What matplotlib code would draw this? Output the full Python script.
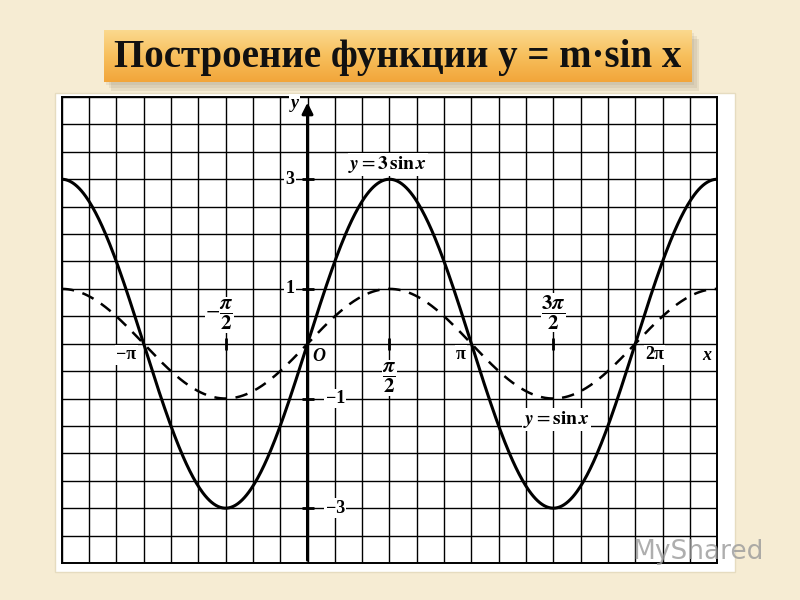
import numpy as np
import matplotlib
matplotlib.use("Agg")
import matplotlib.pyplot as plt
from matplotlib.patches import Rectangle

plt.rcParams['mathtext.fontset'] = 'stix'

title = "Построение функции y = m·sin x"

# amplitudes of the two curves
amps = [3, 1]
styles = ["-", "--"]
curve_labels = [r"$\boldsymbol{y} = \mathbf{3\,sin}\,\boldsymbol{x}$",
                r"$\boldsymbol{y} = \mathbf{sin}\,\boldsymbol{x}$"]
curve_label_pos = [(1.54, 3.27), (4.77, -1.38)]

# axis range: x in units of pi, y in units
x_min, x_max = -1.5 * np.pi, 2.5 * np.pi
y_min, y_max = -4, 4.5

# tick labels on the axes
y_tick_vals = [3, 1, -1, -3]
y_tick_text = ["3", "1", "\u22121", "\u22123"]
x_tick_vals = [-np.pi, np.pi, 2 * np.pi]
x_tick_text = ["\u2212\u03c0", "\u03c0", "2\u03c0"]
frac_vals = [-np.pi / 2, np.pi / 2, 3 * np.pi / 2]
frac_text = [r"$-\dfrac{\boldsymbol{\pi}}{\mathbf{2}}$", r"$\dfrac{\boldsymbol{\pi}}{\mathbf{2}}$",
             r"$\dfrac{\mathbf{3}\boldsymbol{\pi}}{\mathbf{2}}$"]

fig = plt.figure(figsize=(8, 6), dpi=100)
fig.patch.set_facecolor("#f6ecd3")

# white sheet behind the grid
fig.patches.append(Rectangle((55 / 800, 1 - 572 / 600), 680 / 800, 479 / 600,
                             transform=fig.transFigure, fc="white", ec="#e6dcc0", lw=1, zorder=0))

# title box with shadow and gradient
bx, by, bw, bh = 104 / 800, 1 - 82 / 600, 588 / 800, 52 / 600
for i, a in enumerate([0.10, 0.10, 0.12]):
    fig.patches.append(Rectangle((bx + (i + 1) * 0.003, by - (i + 1) * 0.005), bw, bh,
                                 transform=fig.transFigure, fc="#7a6a50", ec="none",
                                 alpha=a, zorder=0))
tax = fig.add_axes([bx, by, bw, bh])
tax.set_zorder(3)
grad = np.linspace(0, 1, 100).reshape(-1, 1)
cmap = matplotlib.colors.LinearSegmentedColormap.from_list("g", ["#fbd98e", "#f7bf5c", "#f2a53a"])
tax.imshow(grad, aspect="auto", cmap=cmap, extent=[0, 1, 0, 1], origin="upper")
tax.set_xlim(0, 1)
tax.set_ylim(0, 1)
tax.axis("off")
tax.text(0.5, 0.47, title, ha="center", va="center", fontsize=28,
         family="Liberation Serif", weight="bold", color="#111111")

# main graph
ax = fig.add_axes([61.7 / 800, 1 - 563 / 600, 655.5 / 800, 466 / 600])
ax.set_zorder(3)
ax.set_xlim(x_min, x_max)
ax.set_ylim(y_min, y_max)
ax.set_xticks(np.arange(-9, 16) * np.pi / 6)
ax.set_yticks(np.arange(-8, 10) * 0.5)
ax.tick_params(length=0, labelbottom=False, labelleft=False)
ax.grid(True, color="black", lw=1.0)
for s in ax.spines.values():
    s.set_linewidth(1.4)

x = np.linspace(x_min, x_max, 600)
for m, ls in zip(amps, styles):
    if ls == "--":
        ax.plot(x, m * np.sin(x), color="black", lw=1.8, ls=ls, dashes=(5, 3.5), zorder=4)
    else:
        ax.plot(x, m * np.sin(x), color="black", lw=2.2, ls=ls, zorder=4)

# axes with arrows
ax.annotate("", xy=(x_max + 0.03, 0), xytext=(x_min, 0),
            arrowprops=dict(arrowstyle="-|>", color="black", lw=2.2, mutation_scale=16), zorder=5)
ax.annotate("", xy=(0, y_max - 0.05), xytext=(0, y_min),
            arrowprops=dict(arrowstyle="-|>", color="black", lw=2.2, mutation_scale=16), zorder=5)

# small tick marks on the axes
ax.plot(frac_vals, [0] * 3, ls="none", marker="|", ms=9, mew=2, color="black", zorder=5)
ax.plot([0] * 4, y_tick_vals, ls="none", marker="_", ms=9, mew=2, color="black", zorder=5)

lab = dict(family="Liberation Serif", weight="bold", fontsize=13, ha="center", va="center",
           zorder=6, bbox=dict(fc="white", ec="none", pad=1))
for v, t in zip(y_tick_vals, y_tick_text):
    xx = -0.33 if v > 0 else 0.53
    ax.text(xx, v, t, **lab)
for v, t in zip(x_tick_vals, x_tick_text):
    ax.text(v + (-0.33 if v < 0 else (-0.2 if v < 4 else 0.37)), -0.2, t, **lab)
ax.text(0.21, -0.24, "O", style="italic", **lab)
ax.text(x_max - 0.2, -0.22, "x", style="italic", **lab)
ax.text(-0.25, 4.38, "y", style="italic", **lab)

frac_y = [0.52, -0.62, 0.57]
for v, t, fy in zip(frac_vals, frac_text, frac_y):
    ax.text(v - (0.12 if v < 0 else 0), fy, t, fontsize=15, ha="center", va="center", zorder=6,
            bbox=dict(fc="white", ec="none", pad=0.5))

for t, (px, py) in zip(curve_labels, curve_label_pos):
    ax.text(px, py, t, fontsize=14, ha="center", va="center", zorder=6,
            bbox=dict(fc="white", ec="none", pad=0.5))

fig.text(0.955, 0.08, "MyShared", fontsize=19, color="#9a9a9a", alpha=0.8,
         ha="right", va="center", family="DejaVu Sans", zorder=10)

fig.savefig("out.png", dpi=100, facecolor=fig.get_facecolor())
